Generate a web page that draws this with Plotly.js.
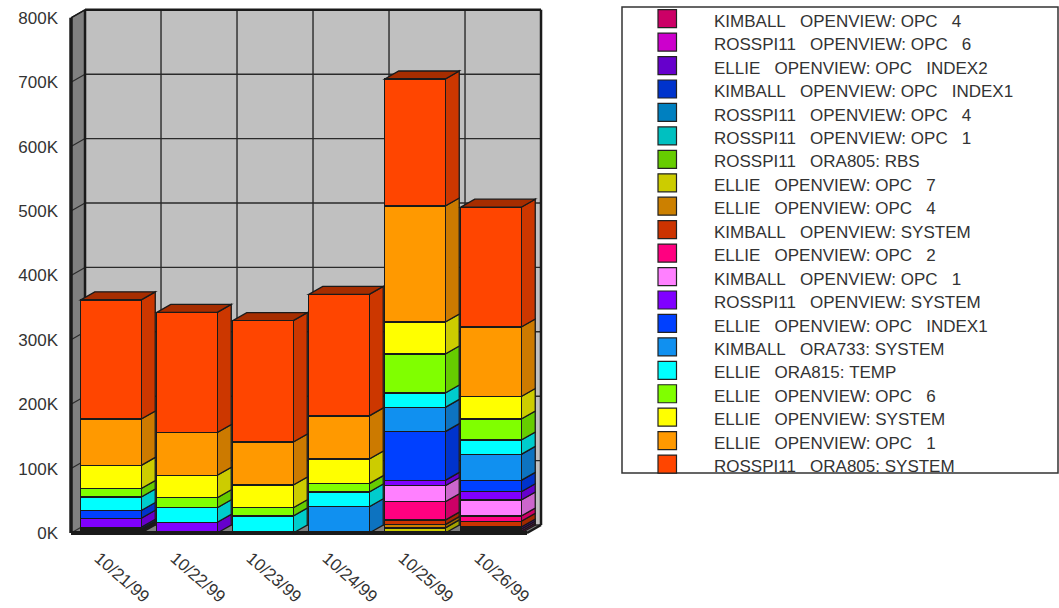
<!DOCTYPE html>
<html>
<head>
<meta charset="utf-8">
<script src="https://cdn.plot.ly/plotly-3.0.1.min.js"></script>
<style>html,body{margin:0;padding:0;background:#fff}</style>
</head>
<body>
<div id="chart" style="width:1059px;height:608px"></div>
<script>
// ---- data (thousands), stacked bottom to top ----
const categories = ["10/21/99","10/22/99","10/23/99","10/24/99","10/25/99","10/26/99"];
const yTicks = [0,100,200,300,400,500,600,700,800];

const kimballOpc4    = [2,0,0,0,0,3];
const rosspiOpc6     = [2,0,0,0,0,3];
const ellieIndex2    = [2,0,0,0,0,3.3];
const kimballIndex1  = [3,0,0,0,0,0];
const rosspiOpc4     = [0,0,0,0,0,0];
const rosspiOpc1     = [0,0,0,0,0,0];
const rosspiRbs      = [0,0,0,0,0,0];
const ellieOpc7      = [0,0,0,0,8,0];
const ellieOpc4      = [0,0,0,0,5,0];
const kimballSystem  = [0,0,0,0,7,8.9];
const ellieOpc2      = [0,0,0,0,28.6,8.2];
const kimballOpc1    = [0,0,0,0,24.8,24.8];
const rosspiSystem   = [14,16.6,0,0,8.4,12.9];
const ellieIndex1    = [12,0,0,0,75.6,17.7];
const kimballOra733  = [0,0,0,40.8,37.6,40.2];
const ellieOra815    = [21,22.7,26.4,22.9,22.4,22.4];
const ellieOpc6      = [13,15.5,12.9,12.9,60.6,32.6];
const ellieSystem    = [36,34.8,35.2,38.3,49.6,35];
const ellieOpc1      = [72,66.4,66.8,67,180.2,107.9];
const rosspiOra805   = [185,186.6,188.4,188.6,197.2,186];

const seriesNames = ["KIMBALL  OPENVIEW: OPC  4","ROSSPI11  OPENVIEW: OPC  6","ELLIE  OPENVIEW: OPC  INDEX2","KIMBALL  OPENVIEW: OPC  INDEX1","ROSSPI11  OPENVIEW: OPC  4","ROSSPI11  OPENVIEW: OPC  1","ROSSPI11  ORA805: RBS","ELLIE  OPENVIEW: OPC  7","ELLIE  OPENVIEW: OPC  4","KIMBALL  OPENVIEW: SYSTEM","ELLIE  OPENVIEW: OPC  2","KIMBALL  OPENVIEW: OPC  1","ROSSPI11  OPENVIEW: SYSTEM","ELLIE  OPENVIEW: OPC  INDEX1","KIMBALL  ORA733: SYSTEM","ELLIE  ORA815: TEMP","ELLIE  OPENVIEW: OPC  6","ELLIE  OPENVIEW: SYSTEM","ELLIE  OPENVIEW: OPC  1","ROSSPI11  ORA805: SYSTEM"];
const seriesColors = ["#CC0066","#CC00CC","#6600CC","#0033CC","#0080C0","#00C0C0","#66CC00","#CCCC00","#CC8000","#CC3300","#FF0080","#FF80FF","#8000FF","#0040FF","#1090F0","#00FFFF","#80FF00","#FFFF00","#FF9900","#FF4500"];
const seriesValues = [kimballOpc4,rosspiOpc6,ellieIndex2,kimballIndex1,rosspiOpc4,rosspiOpc1,rosspiRbs,ellieOpc7,ellieOpc4,kimballSystem,ellieOpc2,kimballOpc1,rosspiSystem,ellieIndex1,kimballOra733,ellieOra815,ellieOpc6,ellieSystem,ellieOpc1,rosspiOra805];

// ---- layout constants ----
const W=1059,H=608,mL=66,mR=514,mT=6,mB=68;
const pxPerCat=76, cat0Px=111, basePx=533, pxPer100=64.4;
const xRange=[(mL-cat0Px)/pxPerCat,(W-mR-cat0Px)/pxPerCat];
const yRange=[(basePx-(H-mB))/pxPer100*100,(basePx-mT)/pxPer100*100];
const barW=0.796, depthX=14/pxPerCat, depthY=8/pxPer100*100;
const floorL=-0.526, floorR=5.474, yMax=800;
const ink="#1a1a1a";

const nm=s=>s.replace(/  /g,"   ").replace(/ /g,"\u00A0");
function darken(hex,f){const n=parseInt(hex.slice(1),16);
  const c=[(n>>16)&255,(n>>8)&255,n&255].map(v=>Math.round(v*f));
  return `rgb(${c[0]},${c[1]},${c[2]})`;}
function poly(pts,fill,w,layer){return {type:"path",xref:"x",yref:"y",layer:layer||"below",
  path:"M"+pts.map(p=>p[0]+","+p[1]).join("L")+"Z",fillcolor:fill,line:{color:ink,width:w===undefined?1.3:w}};}
function seg(x0,y0,x1,y1,w,layer,c){return {type:"line",xref:"x",yref:"y",layer:layer||"below",x0,y0,x1,y1,line:{color:c||ink,width:w}};}

const shapes=[];
// walls and floor
shapes.push(poly([[floorL+depthX,depthY],[floorR+depthX,depthY],[floorR+depthX,yMax+depthY],[floorL+depthX,yMax+depthY]],"#C0C0C0",0));
shapes.push(poly([[floorL,0],[floorL+depthX,depthY],[floorL+depthX,yMax+depthY],[floorL,yMax]],"#808080",0));
shapes.push(poly([[floorL,0],[floorR,0],[floorR+depthX,depthY],[floorL+depthX,depthY]],"#808080",0));
// grid
yTicks.forEach(v=>{
  shapes.push(seg(floorL+depthX,v+depthY,floorR+depthX,v+depthY,1.4,"below","#2a2a2a"));
  shapes.push(seg(floorL,v,floorL+depthX,v+depthY,1.2,"below","#2a2a2a"));
});
categories.forEach((c,i)=>{ if(i>0) shapes.push(seg(floorL+depthX+i,depthY,floorL+depthX+i,yMax+depthY,1.4,"below","#2a2a2a")); });
// wall frame
shapes.push(seg(floorL+depthX,depthY,floorL+depthX,yMax+depthY,2.5));
shapes.push(seg(floorL+depthX,yMax+depthY,floorR+depthX,yMax+depthY,2.5));
shapes.push(seg(floorR+depthX,depthY,floorR+depthX,yMax+depthY,2.5));
shapes.push(seg(floorL,yMax,floorL+depthX,yMax+depthY,1.5));
// bar side faces and tops
categories.forEach((c,i)=>{
  let sum=0; const xr=i+barW/2, xl=i-barW/2;
  seriesValues.forEach((vals,s)=>{
    const v=vals[i]; if(!v) return;
    shapes.push(poly([[xr,sum],[xr+depthX,sum+depthY],[xr+depthX,sum+v+depthY],[xr,sum+v]],darken(seriesColors[s],0.8)));
    sum+=v;
    if(s===seriesValues.length-1) shapes.push(poly([[xl,sum],[xr,sum],[xr+depthX,sum+depthY],[xl+depthX,sum+depthY]],darken(seriesColors[s],0.65)));
  });
});
// heavy front frame, above the bars
shapes.push(seg(floorL,0,floorL,yMax,3.5,"above"));
shapes.push(seg(floorL,0,floorR,0,4,"above"));
shapes.push(seg(floorR,0,floorR+depthX,depthY,2.5,"above"));

// legend drawn in page pixels
const px=x=>(x-mL)/(W-mL-mR), py=y=>1-(y-mT)/(H-mT-mB);
shapes.push({type:"rect",xref:"paper",yref:"paper",x0:px(622),x1:px(1058),y0:py(473),y1:py(7),line:{color:"#333",width:1.5},fillcolor:"#fff"});
const annotations=[];
seriesNames.forEach((n,i)=>{
  const yc=18.7+i*23.44;
  shapes.push({type:"rect",xref:"paper",yref:"paper",x0:px(658),x1:px(676.5),y0:py(yc+9),y1:py(yc-9),fillcolor:seriesColors[i],line:{color:"#222",width:1.2}});
  annotations.push({xref:"paper",yref:"paper",x:px(712),y:py(yc+2.6),xanchor:"left",yanchor:"middle",showarrow:false,
    text:nm(n),font:{family:"Liberation Sans",size:17,color:"#333"}});
});

const traces=seriesNames.map((n,s)=>({type:"bar",name:n,x:categories.map((_,i)=>i),
  y:seriesValues[s].map(v=>v||null),width:barW,
  marker:{color:seriesColors[s],line:{color:ink,width:1.3}},hoverinfo:"name+y"}));

Plotly.newPlot("chart",traces,{
  width:W,height:H,margin:{l:mL,r:mR,t:mT,b:mB,pad:0},paper_bgcolor:"#fff",plot_bgcolor:"#fff",
  barmode:"stack",showlegend:false,shapes,annotations,
  xaxis:{range:xRange,tickmode:"array",tickvals:categories.map((_,i)=>i-0.16),ticktext:categories,tickangle:41,
    showgrid:false,zeroline:false,showline:false,ticks:"",ticklabelstandoff:4,
    tickfont:{family:"Liberation Sans",size:17,color:"#333"}},
  yaxis:{range:yRange,tickmode:"array",tickvals:yTicks,ticktext:yTicks.map(v=>v+"K"),
    showgrid:false,zeroline:false,showline:false,ticks:"",ticklabelstandoff:7,
    tickfont:{family:"Liberation Sans",size:17,color:"#333"}}
},{displayModeBar:false});
</script>
</body>
</html>
